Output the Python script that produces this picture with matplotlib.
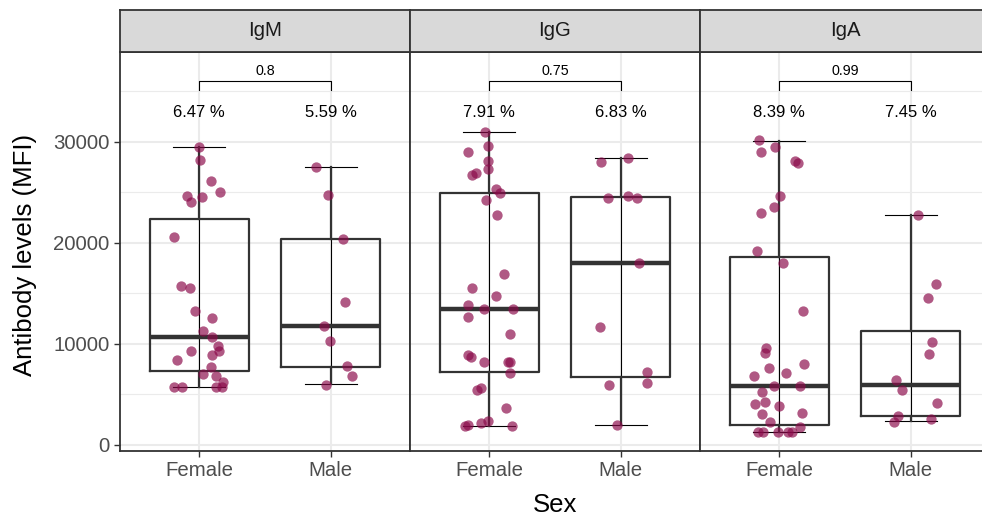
import numpy as np
import matplotlib
matplotlib.use('Agg')
from matplotlib import pyplot as plt

plt.rcParams['font.family'] = ['Liberation Sans', 'DejaVu Sans']

panels = ['IgM', 'IgG', 'IgA']
groups = ['Female', 'Male']

# jittered points: values and horizontal offsets
igm_f_val = [29470, 28220, 26170, 25080, 24690, 24520, 24030, 20630, 15780, 15510, 13270, 12540, 11320,
             10660, 9830, 9340, 9340, 8450, 8910, 7690, 7030, 6860, 5780, 5780, 6200, 5780, 5780]
igm_f_jit = [0, 0.01, 0.09, 0.16, -0.09, 0.02, -0.06, -0.19, -0.14, -0.07, -0.03, 0.10, 0.03,
             0.10, 0.14, 0.15, -0.06, -0.17, 0.10, 0.09, 0.03, 0.13, -0.19, -0.13, 0.18, 0.13, 0.17]
igm_m_val = [27560, 24780, 20400, 14130, 11750, 10270, 7860, 6800, 5940]
igm_m_jit = [-0.11, -0.02, 0.09, 0.11, -0.05, -0.01, 0.12, 0.16, -0.04]

igg_f_val = [30960, 29640, 29040, 28150, 27330, 26930, 26730, 25350, 24950, 24290, 22770, 16930, 15510,
             14720, 13860, 13470, 13470, 12640, 10990, 8910, 8680, 8250, 8250, 8180, 7130, 5610, 5450,
             3660, 1980, 1910, 2180, 2350, 1910]
igg_f_jit = [-0.03, -0.01, -0.16, -0.01, -0.01, -0.10, -0.13, 0.05, 0.08, -0.02, 0.06, 0.11, -0.13,
             0.05, -0.16, -0.04, 0.18, -0.16, 0.16, -0.16, -0.14, -0.04, 0.14, 0.16, 0.16, -0.06, -0.09,
             0.13, -0.16, -0.18, -0.06, -0.01, 0.17]
igg_m_val = [28050, 28380, 24460, 24690, 24460, 18000, 11650, 5940, 7190, 6110, 1980]
igg_m_jit = [-0.15, 0.05, -0.10, 0.05, 0.12, 0.14, -0.16, -0.09, 0.20, 0.20, -0.03]

iga_f_val = [30200, 29040, 29470, 28150, 27890, 24620, 23530, 22970, 19240, 18020, 13300, 9570, 9080,
             8020, 7620, 7130, 6800, 5810, 5870, 5280, 4230, 4060, 3890, 3070, 3170, 2250, 1750,
             1250, 1320, 1250, 1250, 1250]
iga_f_jit = [-0.15, -0.14, -0.03, 0.12, 0.14, 0.01, -0.04, -0.14, -0.17, 0.03, 0.18, -0.10, -0.11,
             0.19, -0.08, 0.05, -0.19, -0.04, 0.16, -0.13, -0.11, -0.18, 0, -0.13, 0.17, -0.07, 0.16,
             -0.16, -0.12, -0.01, 0.07, 0.10]
iga_m_val = [22770, 15940, 14520, 10170, 9010, 6470, 5450, 4130, 2900, 2310, 2570]
iga_m_jit = [0.05, 0.19, 0.13, 0.16, 0.14, -0.11, -0.07, 0.20, -0.10, -0.13, 0.15]

points = [[(igm_f_val, igm_f_jit), (igm_m_val, igm_m_jit)],
          [(igg_f_val, igg_f_jit), (igg_m_val, igg_m_jit)],
          [(iga_f_val, iga_f_jit), (iga_m_val, iga_m_jit)]]

# box statistics per panel: [Female, Male]
box_lo = [[5780, 6010], [1840, 1980], [1250, 2410]]
box_q1 = [[7360, 7750], [7190, 6700], [1980, 2900]]
box_med = [[10730, 11750], [13430, 17990], [5810, 5970]]
box_q3 = [[22380, 20360], [24920, 24520], [18650, 11260]]
box_hi = [[29470, 27490], [30960, 28380], [30130, 22770]]

pct_labels = [['6.47 %', '5.59 %'], ['7.91 %', '6.83 %'], ['8.39 %', '7.45 %']]
p_values = ['0.8', '0.75', '0.99']

W, H = 982, 518
fig = plt.figure(figsize=(W / 100, H / 100), dpi=100)

pt_color = '#8B0A4A'
dark = '#333333'
grid_c = '#EBEBEB'
panel_lefts = [120, 410, 700]
pw = 290
top_px, bot_px, strip_top = 52, 450.5, 10

for i, name in enumerate(panels):
    ax = fig.add_axes([panel_lefts[i] / W, (H - bot_px) / H, pw / W, (bot_px - top_px) / H])
    ax.set_xlim(0.4, 2.6)
    ax.set_ylim(-545, 38910)

    # grid
    for y in [5000, 15000, 25000, 35000]:
        ax.axhline(y, color=grid_c, lw=0.8, zorder=0)
    for y in [0, 10000, 20000, 30000]:
        ax.axhline(y, color=grid_c, lw=1.5, zorder=0)
    for x in [1, 2]:
        ax.axvline(x, color=grid_c, lw=1.5, zorder=0)

    for j in range(2):
        x = j + 1
        # errorbar (thin, full range with caps)
        ax.plot([x, x], [box_lo[i][j], box_hi[i][j]], color='black', lw=0.8, zorder=2)
        for yy in [box_lo[i][j], box_hi[i][j]]:
            ax.plot([x - 0.2, x + 0.2], [yy, yy], color='black', lw=0.8, zorder=2)

    stats = [dict(whislo=box_lo[i][j], q1=box_q1[i][j], med=box_med[i][j], q3=box_q3[i][j],
                  whishi=box_hi[i][j], fliers=[]) for j in range(2)]
    ax.bxp(stats, positions=[1, 2], widths=0.75, showfliers=False, showcaps=False,
           boxprops=dict(color=dark, lw=1.6), whiskerprops=dict(color=dark, lw=1.6),
           medianprops=dict(color=dark, lw=3.2), manage_ticks=False, zorder=3)

    for j in range(2):
        vals, jit = points[i][j]
        ax.scatter(np.array(jit) + j + 1, vals, s=55, color=pt_color, alpha=0.68,
                   linewidths=0, zorder=4)
        ax.text(j + 1, 32900, pct_labels[i][j], ha='center', va='center', fontsize=12, color='black')

    # significance bracket
    ax.plot([1, 1, 2, 2], [35100, 36000, 36000, 35100], color='black', lw=0.8, zorder=3)
    ax.text(1.5, 36300, p_values[i], ha='center', va='bottom', fontsize=10.3, color='black')

    ax.set_xticks([1, 2])
    ax.set_xticklabels(groups)
    ax.set_yticks([0, 10000, 20000, 30000])
    ax.tick_params(axis='both', colors=dark, labelcolor='#4D4D4D', labelsize=14.7,
                   length=4.5, width=1.0, pad=3)
    if i > 0:
        ax.tick_params(axis='y', left=False, labelleft=False)
    for sp in ax.spines.values():
        sp.set_color(dark)
        sp.set_linewidth(1.3)

    # strip
    sax = fig.add_axes([panel_lefts[i] / W, (H - top_px) / H, pw / W, (top_px - strip_top) / H])
    sax.set_xticks([])
    sax.set_yticks([])
    sax.set_facecolor('#D9D9D9')
    for sp in sax.spines.values():
        sp.set_color(dark)
        sp.set_linewidth(1.3)
    sax.text(0.5, 0.5, name, ha='center', va='center', fontsize=14.7, color='#1A1A1A',
             transform=sax.transAxes)

fig.text(25 / W, (H - 255) / H, 'Antibody levels (MFI)', rotation=90, ha='center', va='center',
         fontsize=18.5)
fig.text(555 / W, (H - 505) / H, 'Sex', ha='center', va='center', fontsize=18.5)

fig.savefig('out.png', dpi=100)
